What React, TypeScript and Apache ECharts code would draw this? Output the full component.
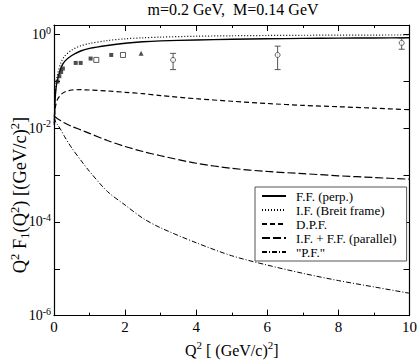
import React, { useEffect, useRef } from 'react';
import * as echarts from 'echarts';

// ---- data ----
const q2Grid = [0.01, 0.03, 0.06, 0.1, 0.2, 0.3, 0.5, 0.75, 1.0, 1.5, 2.0, 2.5, 3.0, 4.0, 5.0, 6.0, 7.0, 8.0, 9.0, 10.0];
const ffPerp = [0.012, 0.04, 0.075, 0.11, 0.2, 0.27, 0.36, 0.45, 0.51, 0.59, 0.66, 0.71, 0.74, 0.775, 0.8, 0.82, 0.835, 0.845, 0.855, 0.86];
const ifBreit = [0.013, 0.045, 0.09, 0.14, 0.26, 0.35, 0.47, 0.58, 0.65, 0.75, 0.82, 0.86, 0.89, 0.93, 0.95, 0.965, 0.975, 0.98, 0.985, 0.99];
const dpf = [0.018, 0.026, 0.034, 0.042, 0.053, 0.06, 0.066, 0.067, 0.066, 0.063, 0.059, 0.055, 0.05, 0.043, 0.038, 0.034, 0.031, 0.029, 0.027, 0.025];
const ifffParallel = [0.018, 0.0175, 0.017, 0.016, 0.0145, 0.013, 0.011, 0.0093, 0.0078, 0.0055, 0.0041, 0.0032, 0.0026, 0.0018, 0.0014, 0.0012, 0.00108, 0.00097, 0.00089, 0.00082];
const pf = [0.017, 0.015, 0.013, 0.012, 0.0091, 0.0066, 0.0038, 0.0021, 0.0012, 0.00045, 0.00023, 0.00012, 0.000075, 0.000036, 0.000019, 0.000012, 0.000008, 0.0000056, 0.0000041, 0.000003];

const expFilledQ2 = [0.1, 0.15, 0.2, 0.25, 0.61, 0.75, 1.03, 1.61];
const expFilledVal = [0.1, 0.13, 0.16, 0.19, 0.25, 0.25, 0.31, 0.37];
const expOpenSqQ2 = [1.19, 1.94];
const expOpenSqVal = [0.29, 0.37];
const expTriQ2 = [2.45];
const expTriVal = [0.4];
const expErrQ2 = [3.35, 6.29, 9.78];
const expErrVal = [0.29, 0.37, 0.67];
const expErrLow = [0.18, 0.18, 0.49];
const expErrHigh = [0.4, 0.57, 0.83];

const xTicks = [0, 2, 4, 6, 8, 10];

const legendNames = ['F.F. (perp.)', 'I.F. (Breit frame)', 'D.P.F.', 'I.F. + F.F. (parallel)', '"P.F."'];

const FONT = 'Liberation Serif';

const zip = (xs: number[], ys: number[]) => xs.map((x, i) => [x, ys[i]]);

function buildOption() {
  const lineSeries = (name: string, vals: number[], type: any, width = 1.2) => ({
    name,
    type: 'line',
    data: zip(q2Grid, vals),
    showSymbol: false,
    symbol: 'none',
    smooth: 0.3,
    lineStyle: { color: '#000', width, type },
    itemStyle: { color: '#000' },
    z: 2,
  });

  const baseX = {
    type: 'value',
    min: xTicks[0],
    max: xTicks[xTicks.length - 1],
    interval: 2,
    splitLine: { show: false },
    axisLine: { show: true, onZero: false, lineStyle: { color: '#000', width: 1.2 } },
    axisTick: { show: true, inside: true, length: 6, lineStyle: { color: '#000' } },
    minorTick: { show: true, splitNumber: 2, length: 3, lineStyle: { color: '#000' } },
  };
  const baseY = {
    type: 'log',
    logBase: 10,
    min: 1e-6,
    max: 1.615,
    splitLine: { show: false },
    axisLine: { show: true, onZero: false, lineStyle: { color: '#000', width: 1.2 } },
    axisTick: { show: true, inside: true, length: 6, lineStyle: { color: '#000' } },
  };

  return {
    animation: false,
    backgroundColor: '#fff',
    title: {
      text: 'm=0.2 GeV,  M=0.14 GeV',
      left: 233,
      textAlign: 'center',
      top: 1,
      padding: 0,
      textStyle: { fontFamily: FONT, fontSize: 16, fontWeight: 'normal', color: '#000' },
    },
    grid: { left: 54, right: 8, top: 25, bottom: 40, containLabel: false },
    legend: {
      data: legendNames,
      orient: 'vertical',
      left: 255,
      top: 187,
      itemWidth: 24,
      itemHeight: 10,
      itemGap: 0,
      padding: [2, 10, 2, 6],
      borderColor: '#555',
      borderWidth: 1,
      backgroundColor: '#fff',
      itemStyle: { color: 'rgba(0,0,0,0)', borderColor: 'rgba(0,0,0,0)', borderWidth: 0, opacity: 0 },
      textStyle: { fontFamily: FONT, fontSize: 13, lineHeight: 14, color: '#000', padding: [0, 0, 0, 5] },
    },
    graphic: [
      {
        type: 'text',
        x: 20,
        y: 195,
        rotation: Math.PI / 2,
        style: {
          text: '{t|Q}{s|2}{t| F}{d|1}{t|(Q}{s|2}{t|) [(GeV/c)}{s|2}{t|]}',
          align: 'center',
          verticalAlign: 'middle',
          rich: {
            t: { fontFamily: FONT, fontSize: 18.5, fill: '#000' },
            s: { fontFamily: FONT, fontSize: 12.5, fill: '#000', padding: [0, 0, 11, 0] },
            d: { fontFamily: FONT, fontSize: 12.5, fill: '#000', padding: [9, 0, 0, 0] },
          },
        },
      },
    ],
    xAxis: [
      {
        ...baseX,
        position: 'bottom',
        axisLabel: { color: '#000', fontFamily: FONT, fontSize: 15, margin: 4 },
        name: '{t|Q}{s|2}{t| [ (GeV/c)}{s|2}{t|]}',
        nameLocation: 'middle',
        nameGap: 9,
        nameTextStyle: {
          rich: {
            t: { fontFamily: FONT, fontSize: 16, color: '#000' },
            s: { fontFamily: FONT, fontSize: 11, color: '#000', padding: [0, 0, 10, 0] },
          },
        },
      },
      { ...baseX, position: 'top', axisLabel: { show: false } },
    ],
    yAxis: [
      {
        ...baseY,
        position: 'left',
        axisLabel: {
          margin: 3,
          formatter: (v: number) => {
            const l = Math.log10(v);
            const e = Math.round(l);
            if (Math.abs(l - e) > 1e-6 || e % 2 !== 0) return '';
            return `{b|10}{s|${e}}`;
          },
          rich: {
            b: { fontFamily: FONT, fontSize: 14, color: '#000' },
            s: { fontFamily: FONT, fontSize: 10, color: '#000', padding: [0, 0, 9, 0] },
          },
        },
      },
      { ...baseY, position: 'right', axisLabel: { show: false } },
    ],
    series: [
      lineSeries(legendNames[0], ffPerp, 'solid', 1.4),
      lineSeries(legendNames[1], ifBreit, [1, 2], 1.2),
      lineSeries(legendNames[2], dpf, [5, 3], 1.2),
      lineSeries(legendNames[3], ifffParallel, [8, 3], 1.2),
      lineSeries(legendNames[4], pf, [5, 2, 1, 2], 1.0),
      {
        name: 'exp-filled',
        type: 'scatter',
        data: zip(expFilledQ2, expFilledVal),
        symbol: 'rect',
        symbolSize: 4,
        itemStyle: { color: '#222' },
        z: 4,
      },
      {
        name: 'exp-open-sq',
        type: 'scatter',
        data: zip(expOpenSqQ2, expOpenSqVal),
        symbol: 'rect',
        symbolSize: 5,
        itemStyle: { color: '#fff', borderColor: '#333', borderWidth: 1 },
        z: 4,
      },
      {
        name: 'exp-tri',
        type: 'scatter',
        data: zip(expTriQ2, expTriVal),
        symbol: 'triangle',
        symbolSize: 5,
        itemStyle: { color: '#222' },
        z: 4,
      },
      {
        name: 'exp-err-bars',
        type: 'custom',
        data: expErrQ2.map((q, i) => [q, expErrLow[i], expErrHigh[i]]),
        encode: { x: 0, y: [1, 2] },
        renderItem: (_p: any, api: any) => {
          const lo = api.coord([api.value(0), api.value(1)]);
          const hi = api.coord([api.value(0), api.value(2)]);
          const w = 3;
          const st = { stroke: '#555', lineWidth: 1 };
          return {
            type: 'group',
            children: [
              { type: 'line', shape: { x1: lo[0], y1: lo[1], x2: hi[0], y2: hi[1] }, style: st },
              { type: 'line', shape: { x1: lo[0] - w, y1: lo[1], x2: lo[0] + w, y2: lo[1] }, style: st },
              { type: 'line', shape: { x1: hi[0] - w, y1: hi[1], x2: hi[0] + w, y2: hi[1] }, style: st },
            ],
          };
        },
        z: 3,
      },
      {
        name: 'exp-err',
        type: 'scatter',
        data: zip(expErrQ2, expErrVal),
        symbol: 'circle',
        symbolSize: 5,
        itemStyle: { color: '#fff', borderColor: '#444', borderWidth: 1 },
        z: 5,
      },
    ],
  };
}

export default function App() {
  const ref = useRef<HTMLDivElement>(null);
  useEffect(() => {
    if (!ref.current) return;
    const chart = echarts.init(ref.current, null, { renderer: 'svg' });
    chart.setOption(buildOption() as any);
    return () => chart.dispose();
  }, []);
  return <div ref={ref} style={{ position: 'absolute', left: 0, top: 0, width: 420, height: 363 }} />;
}
